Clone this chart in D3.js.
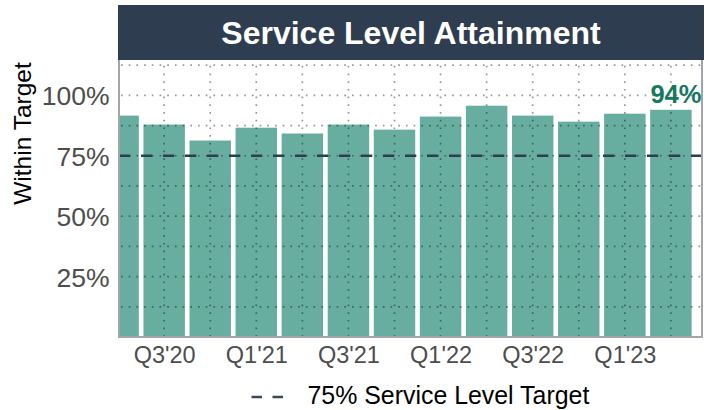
<!DOCTYPE html>
<html>
<head>
<meta charset="utf-8">
<script src="https://cdn.jsdelivr.net/npm/d3@7"></script>
<style>
  html, body { margin: 0; padding: 0; background: #fff; }
  svg { display: block; font-family: "Liberation Sans", Arial, sans-serif; }
</style>
</head>
<body>
<svg id="chart" width="710" height="410"></svg>
<script>
// Quarterly service level attainment (% of requests handled within target)
const quarters = ["Q2'20", "Q3'20", "Q4'20", "Q1'21", "Q2'21", "Q3'21", "Q4'21",
                  "Q1'22", "Q2'22", "Q3'22", "Q4'22", "Q1'23", "Q2'23"];
const attainment = [91.6, 87.9, 81.3, 86.6, 84.2, 87.9, 85.8, 91.2, 95.7, 91.6, 89.1, 92.4, 94];
const targetLevel = 75;
const yTicks = [25, 50, 75, 100];
const yGrid = [12.5, 25, 37.5, 50, 62.5, 75, 87.5, 100, 112.5];
const xTickLabels = ["Q3'20", "Q1'21", "Q3'21", "Q1'22", "Q3'22", "Q1'23"];
const titleText = "Service Level Attainment";
const yTitle = "Within Target";
const legendText = "75% Service Level Target";

const svg = d3.select("#chart");
const panel = { left: 119, right: 702, top: 61, bottom: 337 };

const x = d3.scaleLinear().domain([0, quarters.length - 1]).range([118.1, 670.9]);
const step = x(1) - x(0);
const barW = step * 0.9;
const y = d3.scaleLinear().domain([0, 114.2]).range([panel.bottom, panel.top]);

svg.append("defs").append("clipPath").attr("id", "panel-clip")
  .append("rect")
  .attr("x", panel.left).attr("y", panel.top)
  .attr("width", panel.right - panel.left).attr("height", panel.bottom - panel.top);

// title band
svg.append("rect")
  .attr("x", 118).attr("y", 5).attr("width", 586).attr("height", 55)
  .attr("fill", "#2E3E50");
svg.append("text")
  .attr("x", 411).attr("y", 44)
  .attr("text-anchor", "middle")
  .attr("fill", "#fff").attr("font-weight", "bold").attr("font-size", 32)
  .text(titleText);

const plot = svg.append("g").attr("clip-path", "url(#panel-clip)");

// bars
plot.selectAll("rect.bar")
  .data(attainment)
  .join("rect")
  .attr("class", "bar")
  .attr("x", (d, i) => x(i) - barW / 2)
  .attr("width", barW)
  .attr("y", d => y(d))
  .attr("height", d => y(0) - y(d))
  .attr("fill", "#67AEA0");

// dotted grid drawn over the bars
const grid = plot.append("g")
  .attr("stroke", "#000").attr("stroke-opacity", 0.4)
  .attr("stroke-width", 1.7).attr("stroke-dasharray", "1.7,6");
grid.selectAll("line.h")
  .data(yGrid)
  .join("line")
  .attr("class", "h")
  .attr("x1", panel.left + 2).attr("x2", panel.right)
  .attr("y1", d => y(d)).attr("y2", d => y(d));
grid.selectAll("line.v")
  .data(d3.range(1, quarters.length))
  .join("line")
  .attr("class", "v")
  .attr("x1", d => x(d)).attr("x2", d => x(d))
  .attr("y1", panel.bottom).attr("y2", panel.top);

// target line
plot.append("line")
  .attr("x1", panel.left).attr("x2", panel.right)
  .attr("y1", y(targetLevel)).attr("y2", y(targetLevel))
  .attr("stroke", "#2E3E50").attr("stroke-width", 2.6)
  .attr("stroke-dasharray", "11.3,10.7");

// panel border
svg.append("path")
  .attr("d", `M${panel.left},${panel.top - 1}V${panel.bottom}H${panel.right}V${panel.top - 1}`)
  .attr("fill", "none").attr("stroke", "#a2a6aa").attr("stroke-width", 2);

// latest value label
const last = attainment.length - 1;
svg.append("text")
  .attr("x", x(last) + 5).attr("y", y(attainment[last]) - 7)
  .attr("text-anchor", "middle")
  .attr("fill", "#15795E").attr("font-weight", "bold").attr("font-size", 25.5)
  .text(d3.format(".0f")(attainment[last]) + "%");

// y axis labels
const yAxis = svg.append("g")
  .attr("transform", `translate(${panel.left - 9.5},0)`)
  .call(d3.axisLeft(y).tickValues(yTicks).tickSize(0).tickPadding(0).tickFormat(d => d + "%"));
yAxis.select(".domain").remove();
yAxis.selectAll("text")
  .attr("font-family", "Liberation Sans, Arial, sans-serif")
  .attr("font-size", 26.5).attr("fill", "#4d4d4d").attr("dy", "0.36em");

// x axis labels
const xAxis = svg.append("g")
  .attr("transform", `translate(0,${panel.bottom})`)
  .call(d3.axisBottom(x)
    .tickValues(xTickLabels.map(q => quarters.indexOf(q)))
    .tickSize(0).tickPadding(0)
    .tickFormat(i => quarters[i]));
xAxis.select(".domain").remove();
xAxis.selectAll("text")
  .attr("font-family", "Liberation Sans, Arial, sans-serif")
  .attr("font-size", 23.5).attr("fill", "#4d4d4d")
  .attr("y", 25.5).attr("dy", 0);

// y axis title
svg.append("text")
  .attr("transform", "translate(31,133.5) rotate(-90)")
  .attr("text-anchor", "middle")
  .attr("font-size", 24.5).attr("fill", "#000")
  .text(yTitle);

// legend
const legend = svg.append("g");
legend.append("line")
  .attr("x1", 251.5).attr("x2", 283).attr("y1", 397).attr("y2", 397)
  .attr("stroke", "#3A4858").attr("stroke-width", 2.6)
  .attr("stroke-dasharray", "10.5,10.5");
legend.append("text")
  .attr("x", 307.5).attr("y", 404)
  .attr("font-size", 24.9).attr("fill", "#000")
  .text(legendText);
</script>
</body>
</html>
